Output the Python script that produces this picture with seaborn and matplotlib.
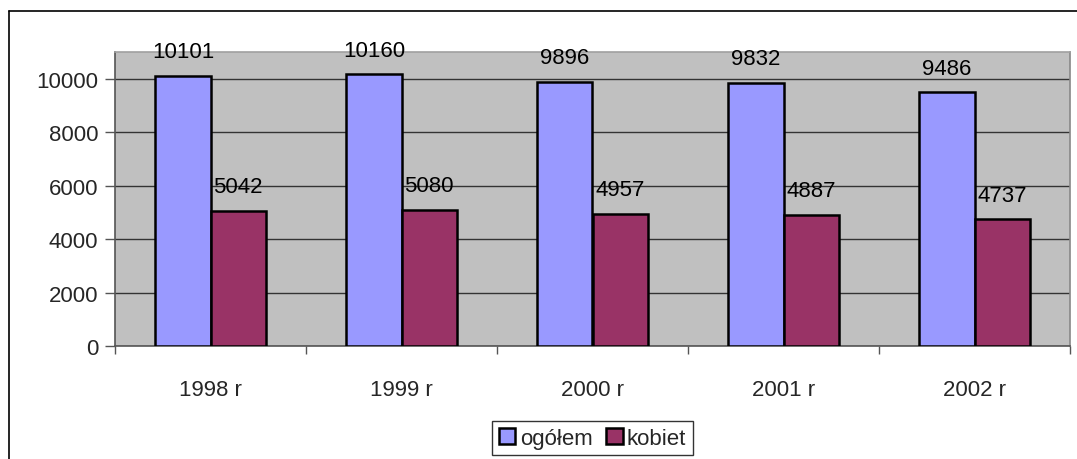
import matplotlib.pyplot as plt
import seaborn as sns
import pandas as pd

years = ['1998 r', '1999 r', '2000 r', '2001 r', '2002 r']
ogolem = [10101, 10160, 9896, 9832, 9486]
kobiet = [5042, 5080, 4957, 4887, 4737]
series = ['ogółem', 'kobiet']
colors = ['#9999FF', '#993366']

df = pd.DataFrame({
    'rok': years * 2,
    'seria': [series[0]] * len(years) + [series[1]] * len(years),
    'wartosc': ogolem + kobiet,
})

sns.set_style('white')
plt.rcParams['font.family'] = ['Liberation Sans', 'DejaVu Sans']
fs = 16

fig = plt.figure(figsize=(10.77, 4.6), dpi=100)
ax = fig.add_axes([115 / 1077, 1 - 347 / 460, (1070 - 115) / 1077, (347 - 53) / 460])
ax.set_facecolor('#C0C0C0')

sns.barplot(data=df, x='rok', y='wartosc', hue='seria', palette=colors,
            width=0.576, edgecolor='black', linewidth=1.8, saturation=1,
            gap=0, ax=ax, zorder=3)

# data labels above bars
for cont in ax.containers:
    ax.bar_label(cont, padding=10, fontsize=fs, color='black')

ax.set_ylim(0, 11000)
ax.set_xlim(-0.5, len(years) - 0.5)
ax.set_yticks(range(0, 11000, 2000))
ax.yaxis.grid(True, color='#333333', linewidth=1, zorder=0)
ax.set_axisbelow(True)
ax.set_xlabel('')
ax.set_ylabel('')
ax.tick_params(axis='y', left=True, labelsize=fs, length=7, width=1, color='#555555', pad=5)
ax.tick_params(axis='x', which='major', bottom=False, labelsize=fs, pad=20)
# tick marks between categories
ax.set_xticks([i - 0.5 for i in range(len(years) + 1)], minor=True)
ax.tick_params(axis='x', which='minor', bottom=True, length=6, width=1, color='#555555')

ax.spines['top'].set_color('#A0A0A0')
ax.spines['left'].set_color('#555555')
ax.spines['bottom'].set_color('#555555')
ax.spines['right'].set_color('#888888')
for s in ['left', 'bottom', 'right', 'top']:
    ax.spines[s].set_linewidth(1.2)

leg = ax.legend(loc='upper center', bbox_to_anchor=(0.5, -0.255), ncol=2,
                frameon=True, fancybox=False, edgecolor='black', fontsize=fs,
                handlelength=0.75, handleheight=0.75, handletextpad=0.2,
                columnspacing=0.6, borderpad=0.3, borderaxespad=0)
leg.get_frame().set_linewidth(1)

# outer chart frame (left and top edges visible)
fig.add_artist(plt.Line2D([9 / 1077, 9 / 1077], [0, 1 - 12 / 460], color='black', lw=1.2))
fig.add_artist(plt.Line2D([9 / 1077, 1], [1 - 12 / 460, 1 - 12 / 460], color='black', lw=1.2))

fig.savefig('out.png', dpi=100)
